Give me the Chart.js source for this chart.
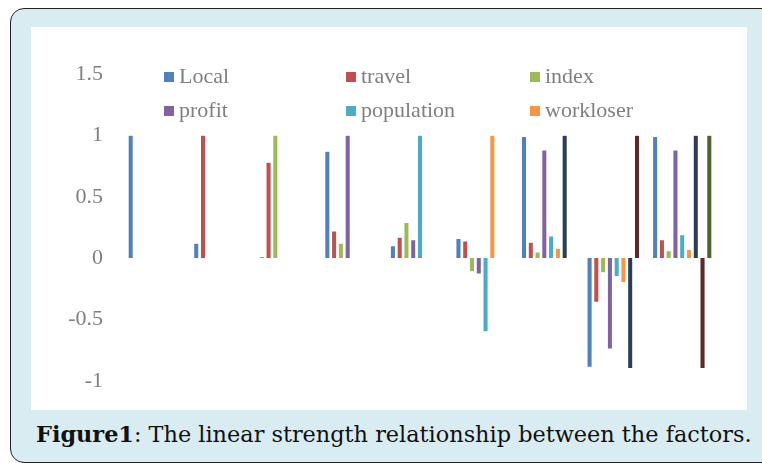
<!DOCTYPE html>
<html>
<head>
<meta charset="utf-8">
<title>Figure1</title>
<script src="https://cdn.jsdelivr.net/npm/chart.js@4/dist/chart.umd.min.js"></script>
<style>
  html, body { margin: 0; padding: 0; width: 762px; height: 463px; overflow: hidden; background: #fff; }
  .frame {
    position: absolute; left: 10px; top: 8px; width: 800px; height: 453px;
    border: 1.5px solid #222; border-radius: 14px; background: #d9ecf1;
  }
  .panel { position: absolute; left: 31px; top: 27px; width: 716px; height: 383px; background: #fff; }
  #chart { position: absolute; left: 31px; top: 27px; }
  .legend { position: absolute; font-family: "Liberation Serif", serif; font-size: 22px; color: #7f7f7f; }
  .legend span.box { display: inline-block; width: 10px; height: 10px; margin-right: 5px; vertical-align: 1px; }
  .caption {
    position: absolute; left: 36px; top: 421px; white-space: nowrap; transform-origin: 0 0;
    font-family: "DejaVu Serif Condensed", "DejaVu Serif", serif; font-size: 22px; color: #111;
  }
</style>
</head>
<body>
<div class="frame"></div>
<div class="panel"></div>
<!-- the canvas runs a little below the white panel: the y axis keeps label padding under -1 -->
<canvas id="chart" width="716" height="389"></canvas>
<div id="legend"></div>
<div class="caption" id="caption"><b>Figure1</b>: The linear strength relationship between the factors.</div>

<script>
  // factors (groups on the x axis) and series names
  const categories = ['Local', 'travel', 'index', 'profit', 'population', 'workloser', 'factor7', 'factor8', 'factor9'];
  const seriesNames = ['Local', 'travel', 'index', 'profit', 'population', 'workloser', 'factor7', 'factor8', 'factor9'];
  const colors = ['#4f81bd', '#c0504d', '#9bbb59', '#8064a2', '#4bacc6', '#f79646', '#2b3d58', '#5c2b29', '#4f6230'];

  // one array per series, one value per factor (lower triangle of the correlation matrix)
  const local      = [1, 0.12, 0.01, 0.87, 0.10, 0.16, 0.99, -0.89, 0.99];
  const travel     = [null, 1, 0.78, 0.22, 0.17, 0.14, 0.13, -0.36, 0.15];
  const index      = [null, null, 1, 0.12, 0.29, -0.11, 0.05, -0.12, 0.06];
  const profit     = [null, null, null, 1, 0.15, -0.13, 0.88, -0.74, 0.88];
  const population = [null, null, null, null, 1, -0.60, 0.18, -0.15, 0.19];
  const workloser  = [null, null, null, null, null, 1, 0.08, -0.20, 0.07];
  const factor7    = [null, null, null, null, null, null, 1, -0.90, 1];
  const factor8    = [null, null, null, null, null, null, null, 1, -0.90];
  const factor9    = [null, null, null, null, null, null, null, null, 1];
  const series = [local, travel, index, profit, population, workloser, factor7, factor8, factor9];

  const yTicks = [-1, -0.5, 0, 0.5, 1, 1.5];

  new Chart(document.getElementById('chart'), {
    type: 'bar',
    data: {
      labels: categories,
      datasets: series.map((values, i) => ({
        label: seriesNames[i],
        data: values,
        backgroundColor: colors[i],
        borderColor: 'rgba(255,255,255,0.5)',
        borderWidth: 0.5,
        categoryPercentage: 0.93,
        barPercentage: 0.75
      }))
    },
    options: {
      responsive: false,
      animation: false,
      layout: { padding: { top: 47, bottom: 0, right: 32, left: 0 } },
      plugins: { legend: { display: false }, tooltip: { enabled: false } },
      scales: {
        x: { display: false },
        y: {
          min: yTicks[0],
          max: yTicks[yTicks.length - 1],
          afterBuildTicks: (axis) => { axis.ticks = yTicks.map(v => ({ value: v })); },
          afterFit: (axis) => { axis.width = 94; },
          grid: { display: false, drawTicks: false },
          border: { display: false },
          ticks: {
            padding: 22,
            color: '#7f7f7f',
            font: { family: 'Liberation Serif', size: 22 },
            callback: (v) => String(v)
          }
        }
      }
    }
  });

  // legend for the first six series, laid out in three columns like the original
  const legendCols = [164, 346, 530];
  const legendRows = [63, 97];
  const legend = document.getElementById('legend');
  seriesNames.slice(0, 6).forEach((name, i) => {
    const el = document.createElement('div');
    el.className = 'legend';
    el.style.left = legendCols[i % 3] + 'px';
    el.style.top = legendRows[Math.floor(i / 3)] + 'px';
    el.innerHTML = '<span class="box" style="background:' + colors[i] + '"></span>' + name;
    legend.appendChild(el);
  });

  // stretch caption to the width it has in the figure
  const cap = document.getElementById('caption');
  cap.style.transform = 'scaleX(' + (716 / cap.offsetWidth) + ')';
</script>
</body>
</html>
